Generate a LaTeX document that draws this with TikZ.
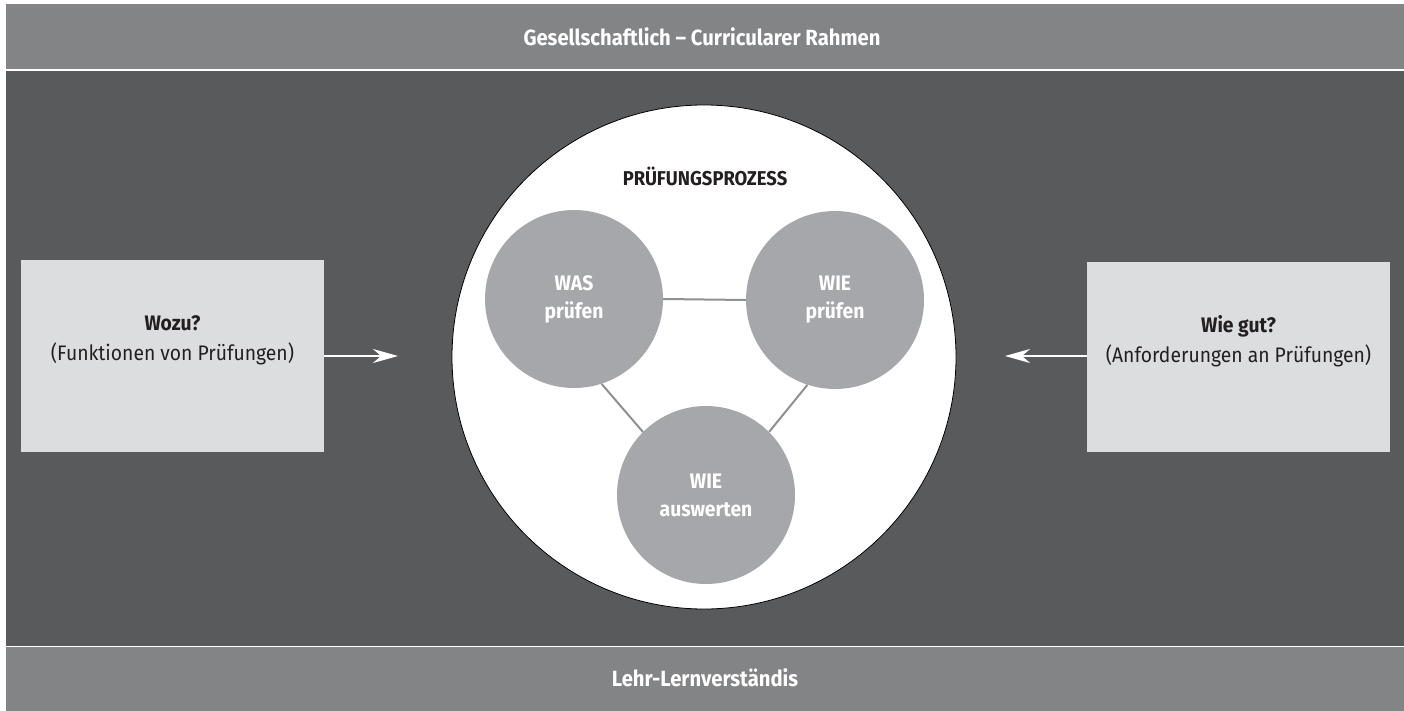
\documentclass[tikz,border=0pt]{standalone}
\usepackage{fontspec}
\setmainfont[FakeStretch=0.92]{Fira Sans}
\usetikzlibrary{arrows.meta}

\definecolor{barGray}{HTML}{838486}
\definecolor{frameDark}{HTML}{595A5C}
\definecolor{boxLight}{HTML}{DCDDDF}
\definecolor{stepGray}{HTML}{A6A7AA}
\definecolor{linkGray}{HTML}{8F9092}
\definecolor{inkDark}{HTML}{231F20}

\tikzset{
  band/.style={fill=barGray, draw=none},
  bandtext/.style={text=white, font=\fontsize{22}{26}\selectfont\bfseries},
  sidebox/.style={fill=boxLight, draw=none, minimum width=303pt, minimum height=192pt},
  sidetext/.style={text=inkDark, align=center, font=\fontsize{21}{30}\selectfont},
  stepnode/.style={circle, fill=stepGray, draw=none, minimum size=178pt, inner sep=0pt,
    text=white, align=center, font=\fontsize{21}{28}\selectfont\bfseries},
  link/.style={draw=linkGray, line width=2pt},
  flow/.style={draw=white, line width=2pt, -{Stealth[length=25pt,width=14pt,inset=8pt]}}
}

\begin{document}
\begin{tikzpicture}[x=1pt,y=-1pt]
  % canvas
  \useasboundingbox (0,0) rectangle (1404,711);
  \fill[white] (0,0) rectangle (1404,711);

  % framing bands and inner field
  \fill[band] (6,4) rectangle (1404,69);
  \fill[frameDark] (6,71) rectangle (1404,646);
  \fill[band] (6,647) rectangle (1404,711);
  \node[bandtext] (toptitle) at (702,37) {Gesellschaftlich – Curricularer Rahmen};
  \node[bandtext] (bottomtitle) at (705,678) {Lehr-Lernverständis};

  % examination process circle
  \node[circle, fill=white, draw=black, line width=0.8pt, minimum size=504pt, inner sep=0pt]
    (process) at (704,357) {};
  \node[text=inkDark, font=\fontsize{20}{24}\selectfont\bfseries] (processtitle) at (705,176) {PRÜFUNGSPROZESS};

  \node[stepnode] (was) at (574,299) {WAS\\prüfen};
  \node[stepnode] (wie) at (835,300) {WIE\\prüfen};
  \node[stepnode] (auswerten) at (706,495) {WIE\\auswerten};

  \draw[link] (was.east) -- (wie.west);
  \draw[link] (was.-72) -- (auswerten.135);
  \draw[link] (wie.-108) -- (auswerten.45);

  % side boxes
  \node[sidebox] (wozu) at (172.5,355.5) {};
  \node[sidetext] (wozutext) at (172.5,340) {\textbf{Wozu?}\\(Funktionen von Prüfungen)};
  \node[sidebox, minimum height=190pt] (wiegut) at (1238.5,357) {};
  \node[sidetext] (wieguttext) at (1238.5,341) {\textbf{Wie gut?}\\(Anforderungen an Prüfungen)};

  % arrows towards the process
  \coordinate (leftend) at (398,356);
  \coordinate (rightend) at (1005,356);
  \draw[flow] (wozu.east |- leftend) -- (leftend);
  \draw[flow] (wiegut.west |- rightend) -- (rightend);
\end{tikzpicture}
\end{document}
